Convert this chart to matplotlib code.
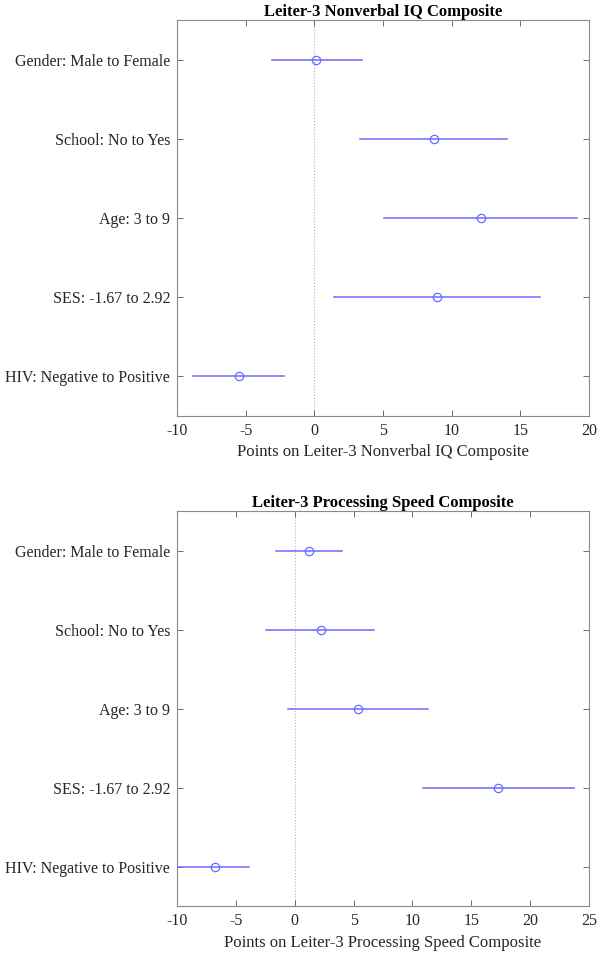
import matplotlib
matplotlib.use("Agg")
import matplotlib.pyplot as plt

categories = ["Gender: Male to Female", "School: No to Yes", "Age: 3 to 9",
              "SES: -1.67 to 2.92", "HIV: Negative to Positive"]

iq_est = [0.1, 8.7, 12.1, 8.9, -5.5]
iq_lo = [-3.1, 3.3, 5.1, 1.4, -8.8]
iq_hi = [3.5, 14.0, 19.1, 16.4, -2.2]

ps_est = [1.2, 2.2, 5.4, 17.3, -6.8]
ps_lo = [-1.6, -2.45, -0.6, 10.9, -10.3]
ps_hi = [4.0, 6.7, 11.3, 23.7, -3.9]

titles = ["Leiter-3 Nonverbal IQ Composite", "Leiter-3 Processing Speed Composite"]
xlabels = ["Points on Leiter-3 Nonverbal IQ Composite", "Points on Leiter-3 Processing Speed Composite"]
xlims = [(-10, 20), (-10, 25)]
xticks = [[-10, -5, 0, 5, 10, 15, 20], [-10, -5, 0, 5, 10, 15, 20, 25]]

plt.rcParams['font.family'] = ['Liberation Serif', 'DejaVu Serif']
plt.rcParams['axes.unicode_minus'] = False

fig = plt.figure(figsize=(6, 9.55), dpi=100)
positions = [[0.295, 0.5644, 0.6867, 0.4147], [0.295, 0.0513, 0.6867, 0.4136]]
data = [(iq_est, iq_lo, iq_hi), (ps_est, ps_lo, ps_hi)]
color = '#6a6aff'

for i in range(2):
    ax = fig.add_axes(positions[i])
    est, lo, hi = data[i]
    ys = list(range(1, len(categories) + 1))
    ax.axvline(0, color='#b0b0b0', lw=0.8, ls=':', zorder=1)
    for y, e, l, h in zip(ys, est, lo, hi):
        ax.plot([l, h], [y, y], color=color, lw=1.1, zorder=2)
    ax.plot(est, ys, 'o', mfc='none', mec=color, ms=6, mew=0.9, zorder=3)
    ax.set_ylim(len(categories) + 0.5, 0.5)
    ax.set_xlim(*xlims[i])
    ax.set_xticks(xticks[i])
    ax.set_yticks(ys)
    ax.set_yticklabels(categories, fontsize=11.5, color='#262626')
    ax.tick_params(axis='x', labelsize=11.5, labelcolor='#262626', pad=5)
    ax.tick_params(axis='y', pad=5)
    ax.tick_params(direction='in', top=True, right=True, length=4, width=0.6, color='#555555')
    for s in ax.spines.values():
        s.set_color('#8a8a8a')
        s.set_linewidth(0.8)
    ax.set_title(titles[i], fontsize=12, fontweight='bold', pad=3)
    ax.set_xlabel(xlabels[i], fontsize=12, color='#262626', labelpad=4)

fig.savefig("out.png", dpi=100)
